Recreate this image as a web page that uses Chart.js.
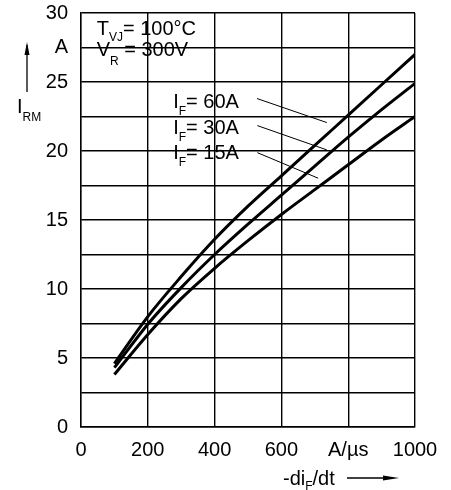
<!DOCTYPE html>
<html>
<head>
<meta charset="utf-8">
<script src="https://cdn.jsdelivr.net/npm/chart.js@4"></script>
<style>
  html, body { margin: 0; padding: 0; background: #fff; }
  #wrap { width: 451px; height: 490px; }
</style>
</head>
<body>
<div id="wrap"><canvas id="chart" width="451" height="490"></canvas></div>
<script>
// ------------------------------------------------------
// Data
// ------------------------------------------------------
const didt = [100, 200, 300, 400, 500, 600, 700, 800, 900, 1000];
const irm60 = [4.6, 8.0, 10.9, 13.6, 16.0, 18.2, 20.4, 22.6, 24.8, 27.0];
const irm30 = [4.3, 7.45, 10.1, 12.5, 14.7, 16.8, 18.9, 21.0, 23.0, 24.9];
const irm15 = [3.8, 6.7, 9.3, 11.5, 13.5, 15.4, 17.2, 19.0, 20.8, 22.5];

// leader lines from the I_F labels to the curves
const leaderX60 = [527, 736];
const leaderY60 = [23.8, 22.06];
const leaderX30 = [528, 736];
const leaderY30 = [21.84, 20.08];
const leaderX15 = [528, 710];
const leaderY15 = [19.88, 18.03];

// label anchors (data units, baseline-left)
const curveLabels = ["60A", "30A", "15A"];
const curveLabelX = [276, 276, 276];
const curveLabelY = [23.09, 21.24, 19.39];

const yTickSpecial = { 27.5: "A" };
const xTickSpecial = { 800: "A/\u00b5s" };

const FONT = "'Liberation Sans', Arial, Helvetica, sans-serif";

function toPoints(xs, ys) {
  const out = [];
  for (let i = 0; i < xs.length; i++) {
    out.push({ x: xs[i], y: ys[i] });
  }
  return out;
}

function curve(data) {
  return {
    data: toPoints(didt, data),
    borderColor: "#000",
    borderWidth: 3,
    pointRadius: 0,
    tension: 0.4,
    cubicInterpolationMode: "monotone",
  };
}

function leader(xs, ys) {
  return {
    data: toPoints(xs, ys),
    borderColor: "#000",
    borderWidth: 1,
    pointRadius: 0,
  };
}

// draws text pieces with subscripts, left to right
function drawRich(ctx, x, y, parts) {
  let cx = x;
  for (let i = 0; i < parts.length; i++) {
    const p = parts[i];
    if (p.sub) {
      ctx.font = "12px " + FONT;
      ctx.fillText(p.t, cx, y + (p.dy || 7));
    } else {
      ctx.font = "20px " + FONT;
      ctx.fillText(p.t, cx, y);
    }
    cx += ctx.measureText(p.t).width;
  }
}

const textPlugin = {
  id: "texts",
  afterDraw(chart) {
    const ctx = chart.ctx;
    const xs = chart.scales.x;
    const ys = chart.scales.y;
    const area = chart.chartArea;

    ctx.save();
    ctx.fillStyle = "#000";
    ctx.strokeStyle = "#000";
    ctx.textBaseline = "alphabetic";
    ctx.textAlign = "left";

    // conditions
    drawRich(ctx, xs.getPixelForValue(47), ys.getPixelForValue(28.42), [
      { t: "T" }, { t: "VJ", sub: true, dy: 6 }, { t: "= 100\u00b0C" },
    ]);
    drawRich(ctx, xs.getPixelForValue(47), ys.getPixelForValue(26.85), [
      { t: "V" }, { t: "R", sub: true, dy: 9 }, { t: " = 300V" },
    ]);

    // curve labels
    for (let i = 0; i < curveLabels.length; i++) {
      drawRich(ctx, xs.getPixelForValue(curveLabelX[i]), ys.getPixelForValue(curveLabelY[i]), [
        { t: "I" }, { t: "F", sub: true, dy: 7 }, { t: "= " + curveLabels[i] },
      ]);
    }

    // y axis title with arrow
    const ax = area.left - 54;
    ctx.lineWidth = 1.3;
    ctx.beginPath();
    ctx.moveTo(ax, area.top + 79);
    ctx.lineTo(ax, area.top + 32);
    ctx.stroke();
    ctx.beginPath();
    ctx.moveTo(ax, area.top + 29);
    ctx.lineTo(ax - 2.5, area.top + 42);
    ctx.lineTo(ax + 2.5, area.top + 42);
    ctx.closePath();
    ctx.fill();
    drawRich(ctx, area.left - 64, area.top + 100, [
      { t: "I" }, { t: "RM", sub: true, dy: 8 },
    ]);

    // x axis title with arrow
    const by = area.bottom + 51;
    drawRich(ctx, area.left + 202, area.bottom + 58, [
      { t: "-di" }, { t: "F", sub: true, dy: 5 }, { t: "/dt" },
    ]);
    ctx.beginPath();
    ctx.moveTo(area.left + 266, by);
    ctx.lineTo(area.left + 305, by);
    ctx.stroke();
    ctx.beginPath();
    ctx.moveTo(area.left + 318, by);
    ctx.lineTo(area.left + 302, by - 2.5);
    ctx.lineTo(area.left + 302, by + 2.5);
    ctx.closePath();
    ctx.fill();

    ctx.restore();
  },
};

new Chart(document.getElementById("chart").getContext("2d"), {
  type: "line",
  data: {
    datasets: [
      curve(irm60),
      curve(irm30),
      curve(irm15),
      leader(leaderX60, leaderY60),
      leader(leaderX30, leaderY30),
      leader(leaderX15, leaderY15),
    ],
  },
  options: {
    responsive: false,
    animation: false,
    events: [],
    layout: { padding: { left: 0, right: 36, top: 13, bottom: 0 } },
    plugins: { legend: { display: false }, tooltip: { enabled: false } },
    scales: {
      x: {
        type: "linear",
        min: 0,
        max: 1000,
        afterFit(scale) {
          scale.height = 63;
          scale.paddingLeft = 0;
          scale.paddingRight = 0;
        },
        ticks: {
          stepSize: 200,
          padding: 11,
          color: "#000",
          font: { family: FONT, size: 20 },
          maxRotation: 0,
          autoSkip: false,
          callback(v) { return xTickSpecial[v] || String(v); },
        },
        grid: { color: "#000", lineWidth: 1.4, drawTicks: false },
        border: { color: "#000", width: 1.4 },
      },
      y: {
        min: 0,
        max: 30,
        afterFit(scale) {
          scale.width = 81;
          scale.paddingTop = 0;
          scale.paddingBottom = 0;
        },
        ticks: {
          stepSize: 2.5,
          padding: 13,
          color: "#000",
          font: { family: FONT, size: 20 },
          autoSkip: false,
          callback(v) {
            if (yTickSpecial[v]) return yTickSpecial[v];
            return v % 5 === 0 ? String(v) : "";
          },
        },
        grid: { color: "#000", lineWidth: 1.4, drawTicks: false },
        border: { color: "#000", width: 1.4 },
      },
    },
  },
  plugins: [textPlugin],
});
</script>
</body>
</html>
